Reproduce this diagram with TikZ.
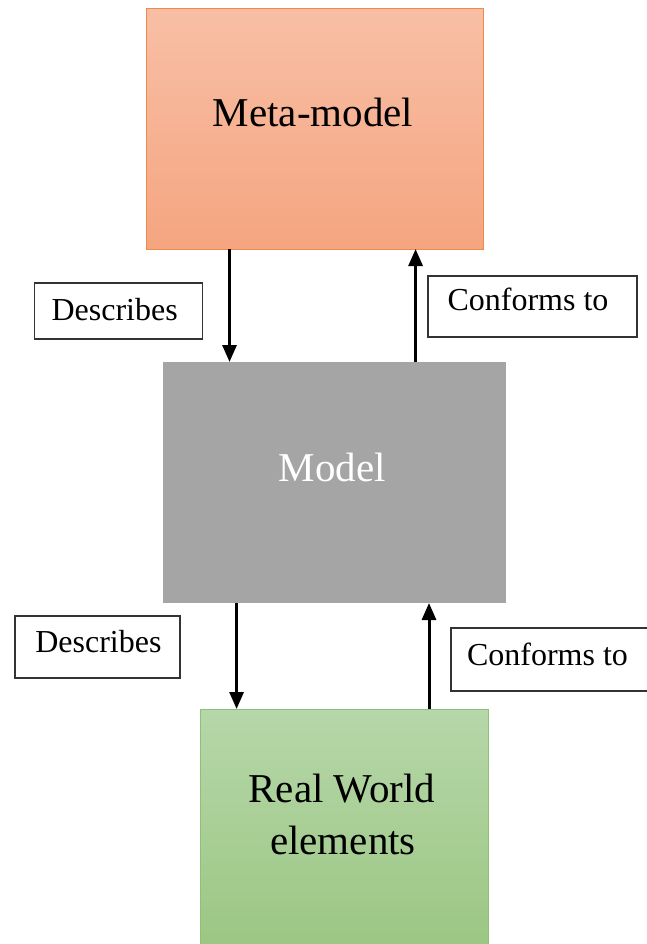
\documentclass[tikz,border=0pt]{standalone}
\usepackage{fontspec}
\setmainfont{Liberation Serif}
\usetikzlibrary{arrows.meta}
\definecolor{metatop}{HTML}{F8BFA6}
\definecolor{metabot}{HTML}{F5A580}
\definecolor{metaline}{HTML}{F08A4B}
\definecolor{modelfill}{HTML}{A5A5A5}
\definecolor{greentop}{HTML}{B6D7A9}
\definecolor{greenbot}{HTML}{9BC682}
\definecolor{greenline}{HTML}{8FC07A}
\tikzset{
  bigbox/.style={rectangle, inner sep=0pt, outer sep=0pt},
  labelbox/.style={rectangle, draw=black!80, line width=1.1pt, fill=white, inner sep=0pt, outer sep=0pt},
  bigtext/.style={anchor=base, inner sep=0pt, font=\fontsize{41}{48}\selectfont},
  smalltext/.style={anchor=base, inner sep=0pt, font=\fontsize{32}{38}\selectfont},
  arr/.style={line width=3pt, -{Triangle[width=14pt,length=17pt]}}
}
\begin{document}
\begin{tikzpicture}[x=1pt,y=-1pt]
\useasboundingbox (0,0) rectangle (646,944);
\fill[white] (0,0) rectangle (646,944);
% main boxes
\node[bigbox, minimum width=337pt, minimum height=240pt, top color=metatop, bottom color=metabot, draw=metaline, line width=1pt] (meta) at (314.5,129) {};
\node[bigbox, minimum width=343pt, minimum height=241pt, fill=modelfill] (model) at (334.5,482.5) {};
\node[bigbox, minimum width=288pt, minimum height=245pt, top color=greentop, bottom color=greenbot, draw=greenline, line width=1pt] (real) at (344,831.5) {};
% texts of main boxes
\node[bigtext] (metatxt) at (313,127) {Meta-model};
\node[bigtext, text=white] (modeltxt) at (332.5,481.7) {Model};
\node[bigtext] (realtxt1) at (342,802) {Real World};
\node[bigtext] (realtxt2) at (343,854) {elements};
% label boxes
\node[labelbox, minimum width=168pt, minimum height=56pt] (d1) at (118.5,311) {};
\node[labelbox, minimum width=209pt, minimum height=61pt] (c1) at (532.5,306.5) {};
\node[labelbox, minimum width=165pt, minimum height=62pt] (d2) at (97.5,647) {};
\node[labelbox, minimum width=200pt, minimum height=63pt] (c2) at (551,659.5) {};
\node[smalltext] (d1t) at (114.7,320) {Describes};
\node[smalltext] (c1t) at (528,310.7) {Conforms to};
\node[smalltext] (d2t) at (98.4,652.7) {Describes};
\node[smalltext] (c2t) at (547.5,665) {Conforms to};
% arrow columns
\coordinate (xa) at (229.5,0);
\coordinate (xb) at (415.6,0);
\coordinate (xc) at (236.6,0);
\coordinate (xd) at (429,0);
\draw[arr] (meta.south -| xa) -- (model.north -| xa);
\draw[arr] (model.north -| xb) -- (meta.south -| xb);
\draw[arr] (model.south -| xc) -- (real.north -| xc);
\draw[arr] (real.north -| xd) -- (model.south -| xd);
\end{tikzpicture}
\end{document}
